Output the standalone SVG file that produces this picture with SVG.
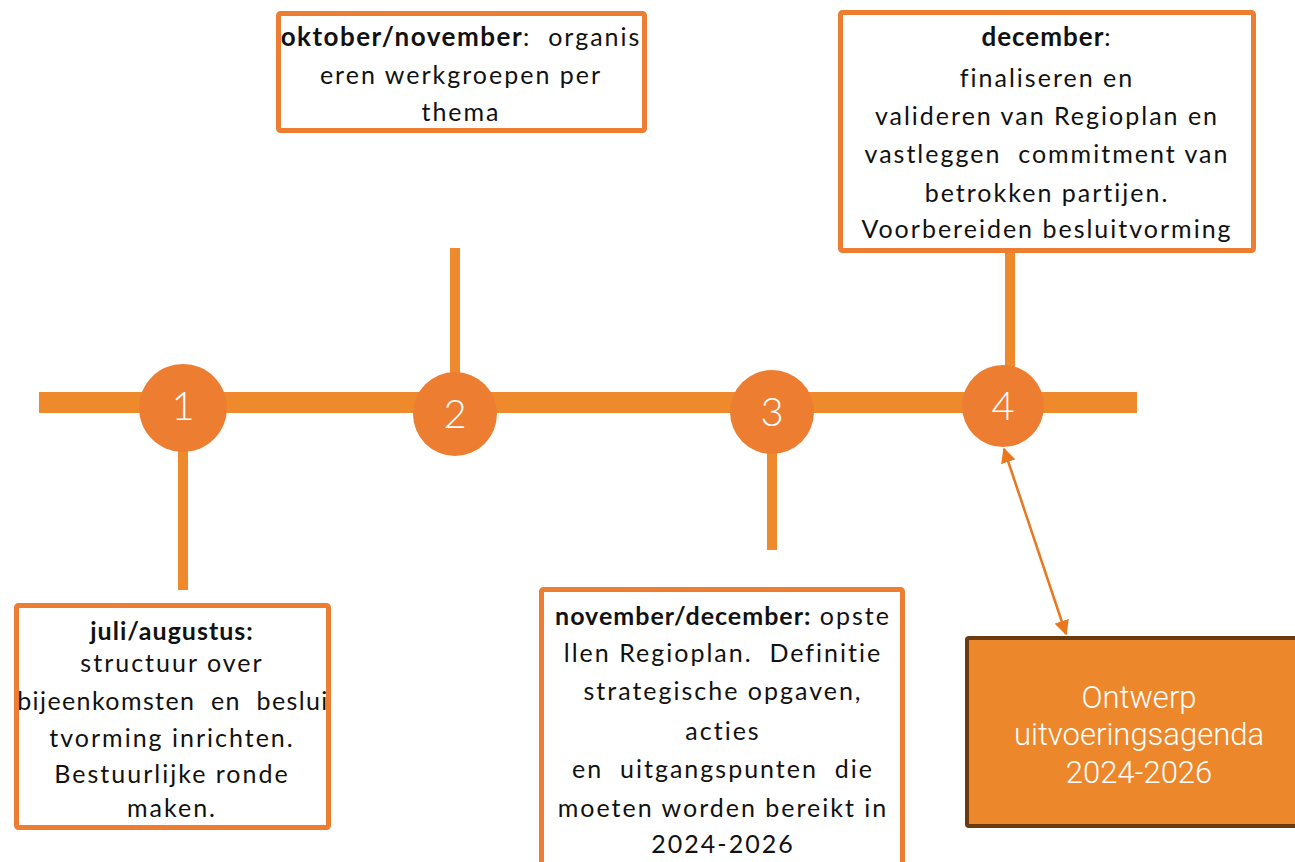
<svg xmlns="http://www.w3.org/2000/svg" width="1295" height="862" viewBox="0 0 1295 862">
<defs>
<style>
.box{fill:#fff;stroke:#ED7D31;stroke-width:5}
.bar{fill:#EE8A2B}
.dot{fill:#ED7D31}
.num{font-family:Lato,"Liberation Sans",sans-serif;font-weight:300;font-size:40px;fill:#fff;text-anchor:middle}
.t{font-family:Lato,"Liberation Sans",sans-serif;font-size:25px;letter-spacing:2px;fill:#111;text-anchor:middle;white-space:pre}
.b{font-weight:bold;letter-spacing:1px}
.w{font-family:Roboto,"Liberation Sans",sans-serif;font-weight:300;font-size:31px;fill:#fff;text-anchor:middle}
</style>
<marker id="ah" viewBox="0 0 10 10" refX="9" refY="5" markerWidth="6" markerHeight="6" orient="auto-start-reverse" markerUnits="strokeWidth">
<path d="M0,0 L10,5 L0,10 z" fill="#E8771E"/>
</marker>
</defs>
<rect width="1295" height="862" fill="#fff"/>
<g id="connectors">
<rect class="bar" x="39" y="392" width="1098" height="21"/>
<rect class="bar" x="178" y="440" width="10" height="150"/>
<rect class="bar" x="450" y="248" width="10" height="135"/>
<rect class="bar" x="767" y="440" width="10" height="110"/>
<rect class="bar" x="1005" y="243" width="10" height="127"/>
<line x1="1004" y1="449" x2="1066" y2="634" stroke="#E8771E" stroke-width="2.5" marker-start="url(#ah)" marker-end="url(#ah)"/>
</g>
<g id="step1">
<circle class="dot" cx="183" cy="408" r="44"/>
<text class="num" x="183" y="420">1</text>
</g>
<g id="step2">
<circle class="dot" cx="455" cy="414" r="42"/>
<text class="num" x="455" y="428">2</text>
</g>
<g id="step3">
<circle class="dot" cx="772" cy="412" r="42"/>
<text class="num" x="772" y="426">3</text>
</g>
<g id="step4">
<circle class="dot" cx="1003" cy="406" r="41"/>
<text class="num" x="1003" y="420">4</text>
</g>
<g id="box-oktober">
<rect class="box" x="278.5" y="13.5" width="366" height="117" rx="2"/>
<text class="t" x="461" y="46" xml:space="preserve"><tspan class="b" style="font-size:26px;letter-spacing:1.5px">oktober/november</tspan>:  organis</text>
<text class="t" x="461" y="84">eren werkgroepen per</text>
<text class="t" x="461" y="121">thema</text>
</g>
<g id="box-december">
<rect class="box" x="840.5" y="12.5" width="413" height="238" rx="2"/>
<text class="t" x="1047" y="46"><tspan class="b" style="font-size:26px">december</tspan>:</text>
<text class="t" x="1047" y="87">finaliseren en</text>
<text class="t" x="1047" y="125">valideren van Regioplan en</text>
<text class="t" x="1047" y="163" xml:space="preserve">vastleggen  commitment van</text>
<text class="t" x="1047" y="202">betrokken partijen.</text>
<text class="t" x="1047" y="238">Voorbereiden besluitvorming</text>
</g>
<g id="box-juli">
<rect class="box" x="16.5" y="605.5" width="312" height="222" rx="2"/>
<text class="t b" x="172" y="640">juli/augustus:</text>
<text class="t" x="172" y="672">structuur over</text>
<text class="t" x="173" y="710" xml:space="preserve" style="letter-spacing:1.4px">bijeenkomsten  en  beslui</text>
<text class="t" x="172" y="747">tvorming inrichten.</text>
<text class="t" x="172" y="783">Bestuurlijke ronde</text>
<text class="t" x="172" y="817">maken.</text>
</g>
<g id="box-november">
<rect class="box" x="541.5" y="589.5" width="361" height="290" rx="2"/>
<text class="t" x="723" y="625"><tspan class="b">november/december:</tspan> opste</text>
<text class="t" x="723" y="662" xml:space="preserve">llen Regioplan.  Definitie</text>
<text class="t" x="723" y="700">strategische opgaven,</text>
<text class="t" x="723" y="740">acties</text>
<text class="t" x="723" y="778" xml:space="preserve">en  uitgangspunten  die</text>
<text class="t" x="723" y="817">moeten worden bereikt in</text>
<text class="t" x="723" y="853">2024-2026</text>
</g>
<g id="box-ontwerp">
<rect x="967" y="638" width="340" height="188" rx="2" fill="#ED872B" stroke="#6B3A10" stroke-width="4"/>
<text class="w" x="1139" y="708">Ontwerp</text>
<text class="w" x="1139" y="745">uitvoeringsagenda</text>
<text class="w" x="1139" y="783">2024-2026</text>
</g>
</svg>
